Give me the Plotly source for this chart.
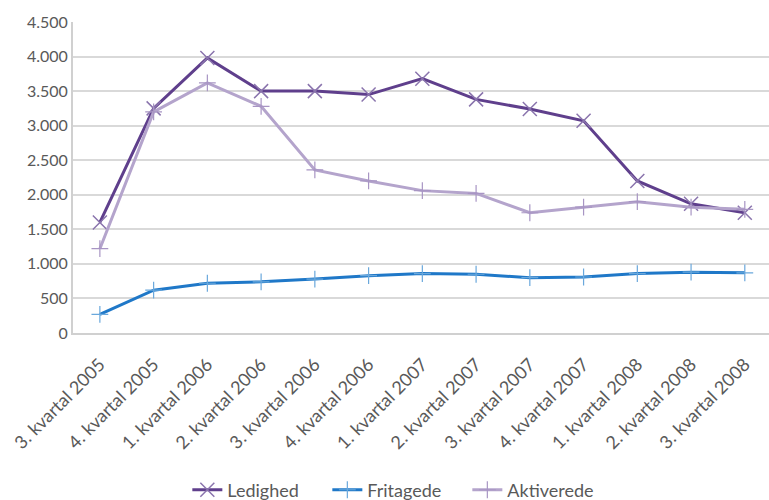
import plotly.graph_objects as go

kvartaler = [
    "3. kvartal 2005", "4. kvartal 2005", "1. kvartal 2006", "2. kvartal 2006",
    "3. kvartal 2006", "4. kvartal 2006", "1. kvartal 2007", "2. kvartal 2007",
    "3. kvartal 2007", "4. kvartal 2007", "1. kvartal 2008", "2. kvartal 2008",
    "3. kvartal 2008",
]
ledighed = [1600, 3250, 3980, 3500, 3500, 3450, 3680, 3380, 3240, 3070, 2200, 1870, 1740]
fritagede = [270, 620, 720, 740, 780, 830, 860, 850, 800, 810, 860, 880, 870]
aktiverede = [1220, 3200, 3620, 3280, 2360, 2200, 2060, 2020, 1740, 1820, 1900, 1820, 1790]

y_ticks = [0, 500, 1000, 1500, 2000, 2500, 3000, 3500, 4000, 4500]

FONT = "Lato"
TXT = "#595959"

fig = go.Figure()

fig.add_trace(go.Scatter(
    x=kvartaler, y=ledighed, name="Ledighed", mode="lines+markers",
    line=dict(color="#5f3f8c", width=3),
    marker=dict(symbol="x-thin", size=14, line=dict(color="#8a74ad", width=1.5)),
))
fig.add_trace(go.Scatter(
    x=kvartaler, y=fritagede, name="Fritagede", mode="lines+markers",
    line=dict(color="#1f78c8", width=3),
    marker=dict(symbol="cross-thin", size=12, line=dict(color="#6aa8dc", width=1.2)),
))
fig.add_trace(go.Scatter(
    x=kvartaler, y=aktiverede, name="Aktiverede", mode="lines+markers",
    line=dict(color="#b4a4cc", width=3),
    marker=dict(symbol="cross-thin", size=12, line=dict(color="#a895c4", width=1.2)),
))

fig.update_layout(
    width=769, height=500,
    margin=dict(l=73, r=0, t=22, b=167, autoexpand=False),
    paper_bgcolor="white", plot_bgcolor="white",
    separators=",.",
    font=dict(family=FONT, size=16, color=TXT),
    showlegend=True,
    legend=dict(
        orientation="h", x=0.466, xanchor="center", y=-0.505, yanchor="middle",
        font=dict(family=FONT, size=18, color=TXT),
        itemwidth=30, entrywidth=95, entrywidthmode="pixels",
    ),
    xaxis=dict(
        type="category", range=[-0.5, 12.45], automargin=False,
        tickangle=-45, showgrid=False, ticklabelstandoff=12,
        showline=True, linecolor="#d0d0d0", linewidth=2,
        ticks="", tickfont=dict(family=FONT, size=18, color=TXT),
    ),
    yaxis=dict(
        range=[0, 4500], tickvals=y_ticks, tickformat=",d", automargin=False,
        showgrid=True, gridcolor="#d9d9d9", gridwidth=2,
        showline=True, linecolor="#d0d0d0", linewidth=2,
        zeroline=False, ticks="", ticklen=0,
        tickfont=dict(family=FONT, size=16, color=TXT),
    ),
)

fig.write_html("out.html")
